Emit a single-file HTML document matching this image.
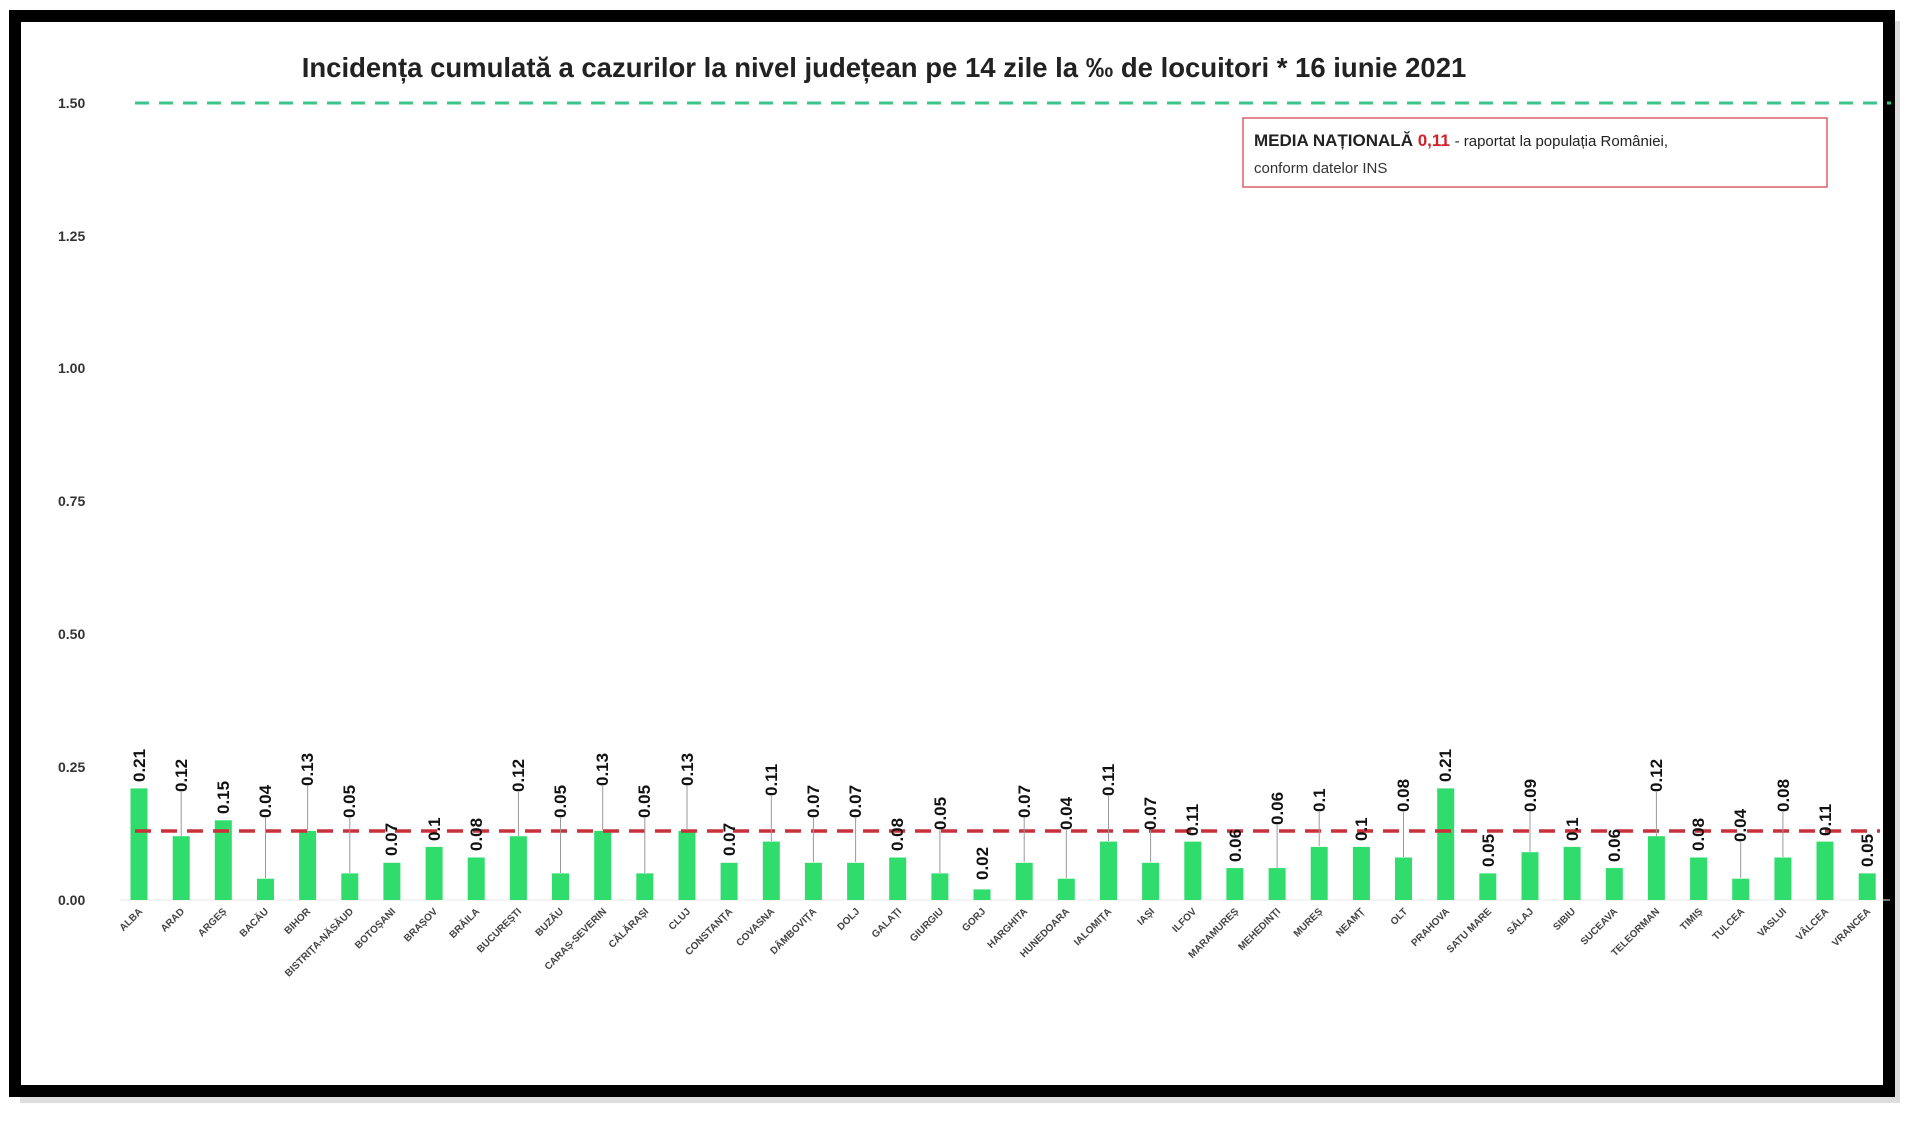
<!DOCTYPE html>
<html><head><meta charset="utf-8"><style>
html,body{margin:0;padding:0;background:#fff;width:1920px;height:1129px;overflow:hidden}
svg{display:block}
.v{font:bold 17px "Liberation Sans",sans-serif;fill:#111}
.c{font:bold 10px "Liberation Sans",sans-serif;fill:#444}
.y{font:bold 14px "Liberation Sans",sans-serif;fill:#333}
</style></head><body>
<svg width="1920" height="1129" viewBox="0 0 1920 1129" xmlns="http://www.w3.org/2000/svg">
<rect x="0" y="0" width="1920" height="1129" fill="#fff"/>
<rect x="20" y="21" width="1880" height="1082" fill="#bbb" opacity="0.5"/>
<rect x="15" y="16" width="1874" height="1075" fill="#fff" stroke="#000" stroke-width="12"/>
<text x="884" y="77" text-anchor="middle" style="font:bold 27.5px 'Liberation Sans',sans-serif;fill:#222">Incidența cumulată a cazurilor la nivel județean pe 14 zile la ‰ de locuitori *  16 iunie 2021</text>
<g class="y" text-anchor="start">
<text x="58" y="108">1.50</text><text x="58" y="241">1.25</text><text x="58" y="373">1.00</text>
<text x="58" y="506">0.75</text><text x="58" y="639">0.50</text><text x="58" y="772">0.25</text><text x="58" y="905">0.00</text>
</g>
<line x1="135" y1="103" x2="1891" y2="103" stroke="#3cc48a" stroke-width="3" stroke-dasharray="14,10"/>
<rect x="1243" y="118" width="584" height="69" fill="#fff" stroke="#d9606a" stroke-width="1.5"/>
<text x="1254" y="146" style="font:bold 17px 'Liberation Sans',sans-serif;fill:#222">MEDIA NAȚIONALĂ <tspan fill="#d0202a">0,11</tspan> <tspan style="font-weight:normal;font-size:15px">- raportat la populația României,</tspan></text>
<text x="1254" y="173" style="font:15px 'Liberation Sans',sans-serif;fill:#333">conform datelor INS</text>
<line x1="120" y1="900" x2="1890" y2="900" stroke="#e8e8e8" stroke-width="1"/>
<g fill="#2fdc6c">
<rect x="130.5" y="788.4" width="17" height="111.6"/><rect x="172.7" y="836.2" width="17" height="63.8"/><rect x="214.8" y="820.3" width="17" height="79.7"/><rect x="257" y="878.7" width="17" height="21.3"/><rect x="299.1" y="830.9" width="17" height="69.1"/><rect x="341.3" y="873.4" width="17" height="26.6"/><rect x="383.4" y="862.8" width="17" height="37.2"/><rect x="425.6" y="846.9" width="17" height="53.1"/><rect x="467.7" y="857.5" width="17" height="42.5"/><rect x="509.9" y="836.2" width="17" height="63.8"/><rect x="552" y="873.4" width="17" height="26.6"/><rect x="594.2" y="830.9" width="17" height="69.1"/><rect x="636.3" y="873.4" width="17" height="26.6"/><rect x="678.5" y="830.9" width="17" height="69.1"/><rect x="720.6" y="862.8" width="17" height="37.2"/><rect x="762.8" y="841.6" width="17" height="58.4"/><rect x="804.9" y="862.8" width="17" height="37.2"/><rect x="847.1" y="862.8" width="17" height="37.2"/><rect x="889.2" y="857.5" width="17" height="42.5"/><rect x="931.4" y="873.4" width="17" height="26.6"/><rect x="973.5" y="889.4" width="17" height="10.6"/><rect x="1015.7" y="862.8" width="17" height="37.2"/><rect x="1057.8" y="878.7" width="17" height="21.3"/><rect x="1100" y="841.6" width="17" height="58.4"/><rect x="1142.1" y="862.8" width="17" height="37.2"/><rect x="1184.3" y="841.6" width="17" height="58.4"/><rect x="1226.4" y="868.1" width="17" height="31.9"/><rect x="1268.6" y="868.1" width="17" height="31.9"/><rect x="1310.7" y="846.9" width="17" height="53.1"/><rect x="1352.9" y="846.9" width="17" height="53.1"/><rect x="1395" y="857.5" width="17" height="42.5"/><rect x="1437.2" y="788.4" width="17" height="111.6"/><rect x="1479.3" y="873.4" width="17" height="26.6"/><rect x="1521.5" y="852.2" width="17" height="47.8"/><rect x="1563.6" y="846.9" width="17" height="53.1"/><rect x="1605.8" y="868.1" width="17" height="31.9"/><rect x="1647.9" y="836.2" width="17" height="63.8"/><rect x="1690.1" y="857.5" width="17" height="42.5"/><rect x="1732.2" y="878.7" width="17" height="21.3"/><rect x="1774.4" y="857.5" width="17" height="42.5"/><rect x="1816.5" y="841.6" width="17" height="58.4"/><rect x="1858.7" y="873.4" width="17" height="26.6"/>
</g>
<line x1="135" y1="831" x2="1880" y2="831" stroke="#c8303a" stroke-width="3.5" stroke-dasharray="16,10"/>
<g stroke="#999" stroke-width="1">
<line x1="181.2" y1="792" x2="181.2" y2="836"/><line x1="265.5" y1="818" x2="265.5" y2="878"/><line x1="307.6" y1="786" x2="307.6" y2="830"/><line x1="349.8" y1="818" x2="349.8" y2="873"/><line x1="518.4" y1="792" x2="518.4" y2="836"/><line x1="560.5" y1="818" x2="560.5" y2="873"/><line x1="602.7" y1="786" x2="602.7" y2="830"/><line x1="644.8" y1="818" x2="644.8" y2="873"/><line x1="687" y1="786" x2="687" y2="830"/><line x1="771.3" y1="796" x2="771.3" y2="841"/><line x1="813.4" y1="818" x2="813.4" y2="862"/><line x1="855.6" y1="818" x2="855.6" y2="862"/><line x1="939.9" y1="830" x2="939.9" y2="873"/><line x1="1024.2" y1="818" x2="1024.2" y2="862"/><line x1="1066.3" y1="830" x2="1066.3" y2="878"/><line x1="1108.5" y1="796" x2="1108.5" y2="841"/><line x1="1150.6" y1="830" x2="1150.6" y2="862"/><line x1="1277.1" y1="825" x2="1277.1" y2="868"/><line x1="1319.2" y1="812" x2="1319.2" y2="846"/><line x1="1403.5" y1="812" x2="1403.5" y2="857"/><line x1="1530" y1="812" x2="1530" y2="852"/><line x1="1656.4" y1="792" x2="1656.4" y2="836"/><line x1="1740.7" y1="842" x2="1740.7" y2="878"/><line x1="1782.9" y1="812" x2="1782.9" y2="857"/>
</g>
<g class="v">
<text transform="translate(145,782) rotate(-90)">0.21</text>
<text transform="translate(187,792) rotate(-90)">0.12</text>
<text transform="translate(229,814) rotate(-90)">0.15</text>
<text transform="translate(271,818) rotate(-90)">0.04</text>
<text transform="translate(313,786) rotate(-90)">0.13</text>
<text transform="translate(355,818) rotate(-90)">0.05</text>
<text transform="translate(397,856) rotate(-90)">0.07</text>
<text transform="translate(440,841) rotate(-90)">0.1</text>
<text transform="translate(482,851) rotate(-90)">0.08</text>
<text transform="translate(524,792) rotate(-90)">0.12</text>
<text transform="translate(566,818) rotate(-90)">0.05</text>
<text transform="translate(608,786) rotate(-90)">0.13</text>
<text transform="translate(650,818) rotate(-90)">0.05</text>
<text transform="translate(693,786) rotate(-90)">0.13</text>
<text transform="translate(735,856) rotate(-90)">0.07</text>
<text transform="translate(777,796) rotate(-90)">0.11</text>
<text transform="translate(819,818) rotate(-90)">0.07</text>
<text transform="translate(861,818) rotate(-90)">0.07</text>
<text transform="translate(903,851) rotate(-90)">0.08</text>
<text transform="translate(946,830) rotate(-90)">0.05</text>
<text transform="translate(988,880) rotate(-90)">0.02</text>
<text transform="translate(1030,818) rotate(-90)">0.07</text>
<text transform="translate(1072,830) rotate(-90)">0.04</text>
<text transform="translate(1114,796) rotate(-90)">0.11</text>
<text transform="translate(1156,830) rotate(-90)">0.07</text>
<text transform="translate(1198,836) rotate(-90)">0.11</text>
<text transform="translate(1241,862) rotate(-90)">0.06</text>
<text transform="translate(1283,825) rotate(-90)">0.06</text>
<text transform="translate(1325,812) rotate(-90)">0.1</text>
<text transform="translate(1367,841) rotate(-90)">0.1</text>
<text transform="translate(1409,812) rotate(-90)">0.08</text>
<text transform="translate(1451,782) rotate(-90)">0.21</text>
<text transform="translate(1494,867) rotate(-90)">0.05</text>
<text transform="translate(1536,812) rotate(-90)">0.09</text>
<text transform="translate(1578,841) rotate(-90)">0.1</text>
<text transform="translate(1620,862) rotate(-90)">0.06</text>
<text transform="translate(1662,792) rotate(-90)">0.12</text>
<text transform="translate(1704,851) rotate(-90)">0.08</text>
<text transform="translate(1746,842) rotate(-90)">0.04</text>
<text transform="translate(1789,812) rotate(-90)">0.08</text>
<text transform="translate(1831,836) rotate(-90)">0.11</text>
<text transform="translate(1873,867) rotate(-90)">0.05</text>
</g>
<g class="c" text-anchor="end">
<text transform="translate(143,912) rotate(-45)">ALBA</text>
<text transform="translate(185,912) rotate(-45)">ARAD</text>
<text transform="translate(227,912) rotate(-45)">ARGEȘ</text>
<text transform="translate(269,912) rotate(-45)">BACĂU</text>
<text transform="translate(311,912) rotate(-45)">BIHOR</text>
<text transform="translate(354,912) rotate(-45)">BISTRIȚA-NĂSĂUD</text>
<text transform="translate(396,912) rotate(-45)">BOTOȘANI</text>
<text transform="translate(438,912) rotate(-45)">BRAȘOV</text>
<text transform="translate(480,912) rotate(-45)">BRĂILA</text>
<text transform="translate(522,912) rotate(-45)">BUCUREȘTI</text>
<text transform="translate(564,912) rotate(-45)">BUZĂU</text>
<text transform="translate(607,912) rotate(-45)">CARAȘ-SEVERIN</text>
<text transform="translate(649,912) rotate(-45)">CĂLĂRAȘI</text>
<text transform="translate(691,912) rotate(-45)">CLUJ</text>
<text transform="translate(733,912) rotate(-45)">CONSTANȚA</text>
<text transform="translate(775,912) rotate(-45)">COVASNA</text>
<text transform="translate(817,912) rotate(-45)">DÂMBOVIȚA</text>
<text transform="translate(860,912) rotate(-45)">DOLJ</text>
<text transform="translate(902,912) rotate(-45)">GALAȚI</text>
<text transform="translate(944,912) rotate(-45)">GIURGIU</text>
<text transform="translate(986,912) rotate(-45)">GORJ</text>
<text transform="translate(1028,912) rotate(-45)">HARGHITA</text>
<text transform="translate(1070,912) rotate(-45)">HUNEDOARA</text>
<text transform="translate(1112,912) rotate(-45)">IALOMIȚA</text>
<text transform="translate(1155,912) rotate(-45)">IAȘI</text>
<text transform="translate(1197,912) rotate(-45)">ILFOV</text>
<text transform="translate(1239,912) rotate(-45)">MARAMUREȘ</text>
<text transform="translate(1281,912) rotate(-45)">MEHEDINȚI</text>
<text transform="translate(1323,912) rotate(-45)">MUREȘ</text>
<text transform="translate(1365,912) rotate(-45)">NEAMȚ</text>
<text transform="translate(1408,912) rotate(-45)">OLT</text>
<text transform="translate(1450,912) rotate(-45)">PRAHOVA</text>
<text transform="translate(1492,912) rotate(-45)">SATU MARE</text>
<text transform="translate(1534,912) rotate(-45)">SĂLAJ</text>
<text transform="translate(1576,912) rotate(-45)">SIBIU</text>
<text transform="translate(1618,912) rotate(-45)">SUCEAVA</text>
<text transform="translate(1660,912) rotate(-45)">TELEORMAN</text>
<text transform="translate(1703,912) rotate(-45)">TIMIȘ</text>
<text transform="translate(1745,912) rotate(-45)">TULCEA</text>
<text transform="translate(1787,912) rotate(-45)">VASLUI</text>
<text transform="translate(1829,912) rotate(-45)">VÂLCEA</text>
<text transform="translate(1871,912) rotate(-45)">VRANCEA</text>
</g>
</svg>
</body></html>
